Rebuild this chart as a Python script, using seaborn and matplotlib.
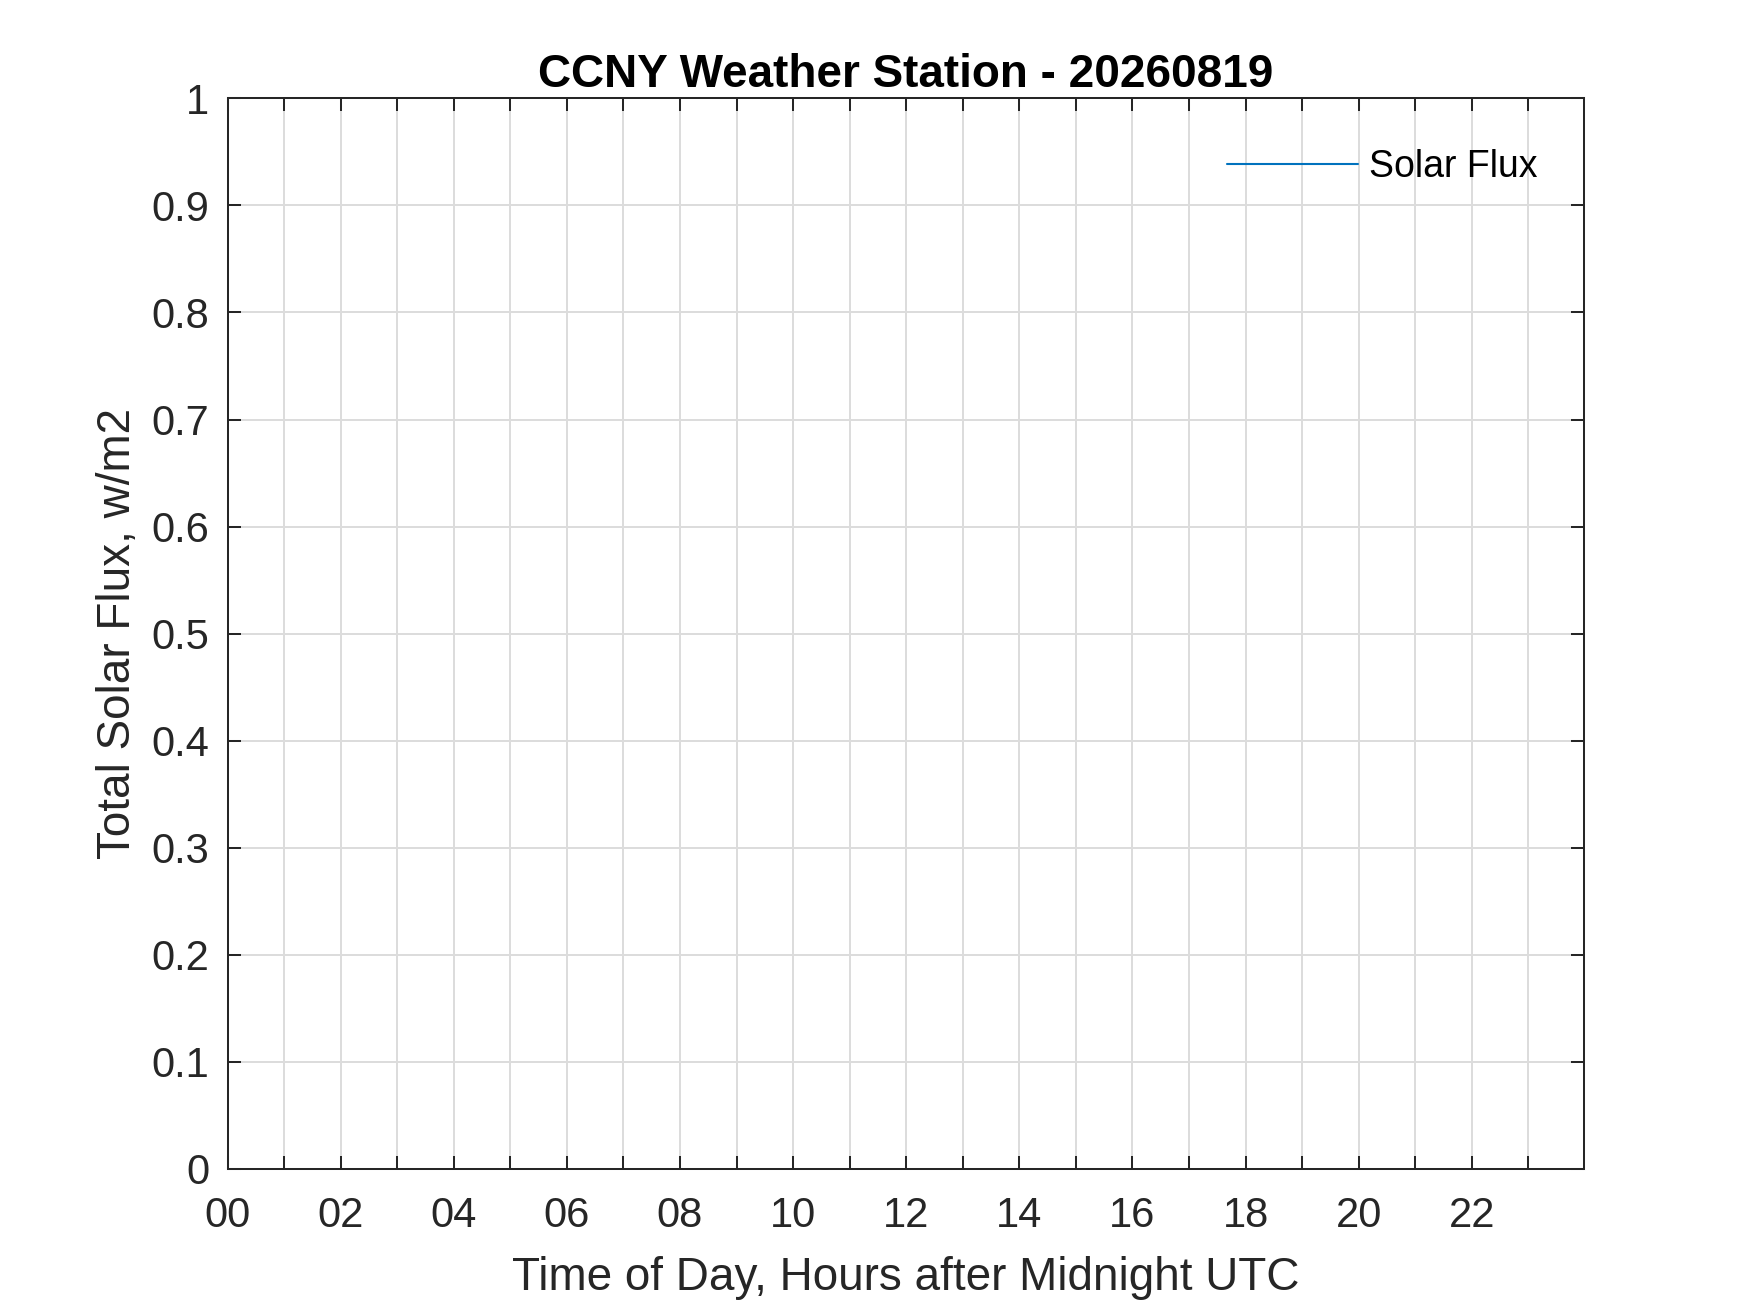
import numpy as np
import pandas as pd
import matplotlib
matplotlib.use("Agg")
import matplotlib.pyplot as plt
from matplotlib.lines import Line2D
from matplotlib.ticker import FixedLocator
import seaborn as sns

# ---- data (the reference day has no recorded samples) ----
hours = []          # time of day, hours after midnight UTC
solar_flux = []     # total solar flux, w/m2
series_name = "Solar Flux"
title = "CCNY Weather Station - 20260819"
xlabel = "Time of Day, Hours after Midnight UTC"
ylabel = "Total Solar Flux, w/m2"
x_major = [0, 2, 4, 6, 8, 10, 12, 14, 16, 18, 20, 22]
x_major_labels = ["00", "02", "04", "06", "08", "10", "12", "14", "16", "18", "20", "22"]
x_minor = [1, 3, 5, 7, 9, 11, 13, 15, 17, 19, 21, 23]
y_ticks = [0, 0.1, 0.2, 0.3, 0.4, 0.5, 0.6, 0.7, 0.8, 0.9, 1.0]
y_tick_labels = ["0", "0.1", "0.2", "0.3", "0.4", "0.5", "0.6", "0.7", "0.8", "0.9", "1"]

sns.set_theme(style="white")
plt.rcParams['font.family'] = ['Liberation Sans', 'DejaVu Sans']

AX_COL = "#262626"
GRID_COL = "#dcdcdc"
LINE_COL = "#0072BD"

fig = plt.figure(figsize=(17.5, 13.13), dpi=100)
ax = fig.add_axes([0.13, 0.11, 0.775, 0.815])

df = pd.DataFrame({"hour": pd.Series(hours, dtype=float),
                   "flux": pd.Series(solar_flux, dtype=float)})
if len(df) > 0:
    sns.lineplot(data=df, x="hour", y="flux", ax=ax, color=LINE_COL, lw=1.5)

ax.set_xlim(0, 23.98)
ax.set_ylim(0, 1)

ax.xaxis.set_major_locator(FixedLocator(x_major))
ax.set_xticklabels(x_major_labels)
ax.xaxis.set_minor_locator(FixedLocator(x_minor))
ax.set_yticks(y_ticks)
ax.set_yticklabels(y_tick_labels)

ax.grid(True, which="both", color=GRID_COL, linewidth=1.4)
ax.set_axisbelow(True)

for s in ax.spines.values():
    s.set_visible(True)
    s.set_color(AX_COL)
    s.set_linewidth(1.45)

ax.tick_params(axis="both", which="both", direction="in", length=9.5, width=1.45,
               color=AX_COL, top=True, right=True, bottom=True, left=True)
ax.tick_params(axis="x", which="major", labelsize=30, labelcolor=AX_COL, pad=20)
ax.tick_params(axis="y", which="major", labelsize=30, labelcolor=AX_COL, pad=13)

ax.set_xlabel(xlabel, fontsize=33, color=AX_COL, labelpad=14)
ax.set_ylabel(ylabel, fontsize=33, color=AX_COL, labelpad=8)
ax.set_title(title, fontsize=33, fontweight="bold", color="black", pad=8)

handle = Line2D([], [], color=LINE_COL, lw=1.5)
leg = ax.legend([handle], [series_name], loc="upper right", bbox_to_anchor=(0.966, 0.953),
                frameon=False, fontsize=27, handlelength=3.5, handletextpad=0.3,
                borderaxespad=0, borderpad=0)
for t in leg.get_texts():
    t.set_color("black")

fig.savefig("out.png", dpi=100, facecolor="white")
